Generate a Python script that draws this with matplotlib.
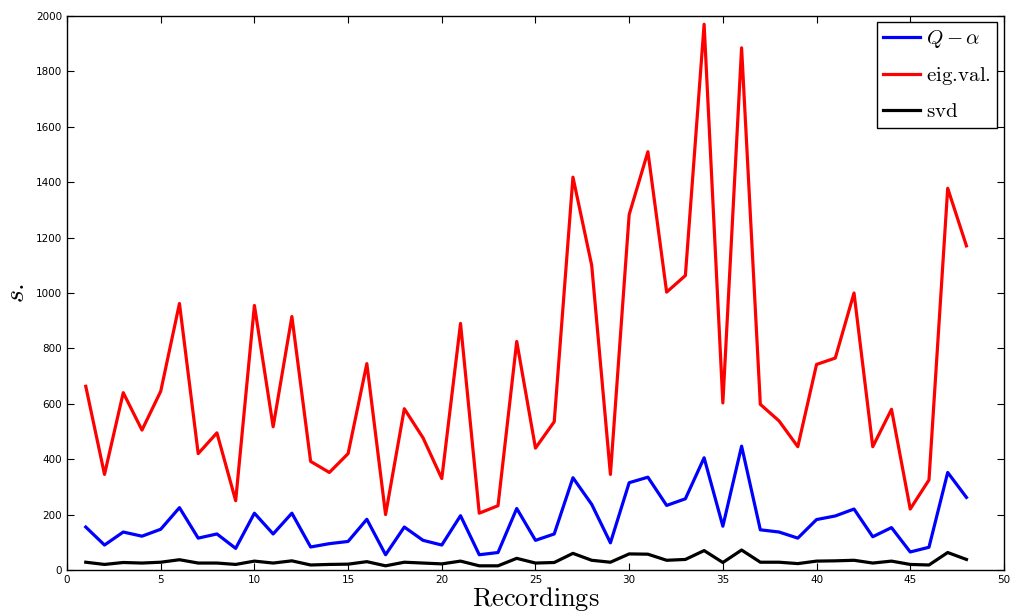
import matplotlib
matplotlib.use("Agg")
import matplotlib.pyplot as plt
import numpy as np

plt.rcParams['mathtext.fontset'] = 'cm'

recordings = list(range(1, 49))
q_alpha = [155, 90, 137, 122, 147, 225, 115, 130, 78, 205, 130, 205, 83, 95, 103, 183,
           55, 155, 107, 90, 196, 55, 63, 222, 107, 130, 333, 237, 98, 315, 335, 233,
           257, 405, 158, 447, 145, 137, 115, 182, 195, 220, 120, 153, 65, 82, 352, 262]
eig_val = [663, 345, 640, 505, 645, 962, 420, 495, 250, 955, 517, 915, 392, 352, 420, 745,
           200, 582, 477, 330, 890, 205, 232, 825, 440, 535, 1418, 1100, 345, 1283, 1510, 1003,
           1063, 1970, 603, 1885, 598, 538, 445, 742, 765, 1000, 445, 580, 220, 325, 1378, 1170]
svd = [28, 20, 27, 25, 28, 37, 25, 25, 20, 32, 25, 33, 18, 20, 21, 30,
       15, 28, 25, 22, 32, 15, 15, 42, 25, 27, 60, 35, 28, 58, 57, 35,
       38, 70, 27, 72, 28, 28, 23, 32, 33, 35, 25, 32, 20, 18, 63, 38]

xticks = list(range(0, 51, 5))
yticks = list(range(0, 2001, 200))

fig = plt.figure(figsize=(10.11, 6.14), dpi=100)
ax = fig.add_axes([0.0663, 0.0717, 0.9267, 0.9023])

ax.plot(recordings, q_alpha, color='#0000ff', lw=2.3, label=r'$Q-\alpha$')
ax.plot(recordings, eig_val, color='#ff0000', lw=2.3, label=r'$\mathrm{eig.\!val.}$')
ax.plot(recordings, svd, color='#000000', lw=2.3, label=r'$\mathrm{svd}$')

ax.set_xlim(0, 50)
ax.set_ylim(0, 2000)
ax.set_xticks(xticks)
ax.set_yticks(yticks)
ax.tick_params(direction='in', top=True, right=True, labelsize=7.5, length=5, width=0.8)
for s in ax.spines.values():
    s.set_linewidth(1.0)

ax.set_xlabel(r'$\mathrm{Recordings}$', fontsize=19, labelpad=0)
ax.set_ylabel(r'$s.$', fontsize=20, labelpad=4)

leg = ax.legend(loc='upper right', fontsize=15, fancybox=False, framealpha=1,
                edgecolor='black', handlelength=1.8, borderpad=0.3, labelspacing=0.7,
                handletextpad=0.25, borderaxespad=0, bbox_to_anchor=(0.9925, 0.989))
leg.get_frame().set_linewidth(1.0)

fig.savefig('out.png', dpi=100)
